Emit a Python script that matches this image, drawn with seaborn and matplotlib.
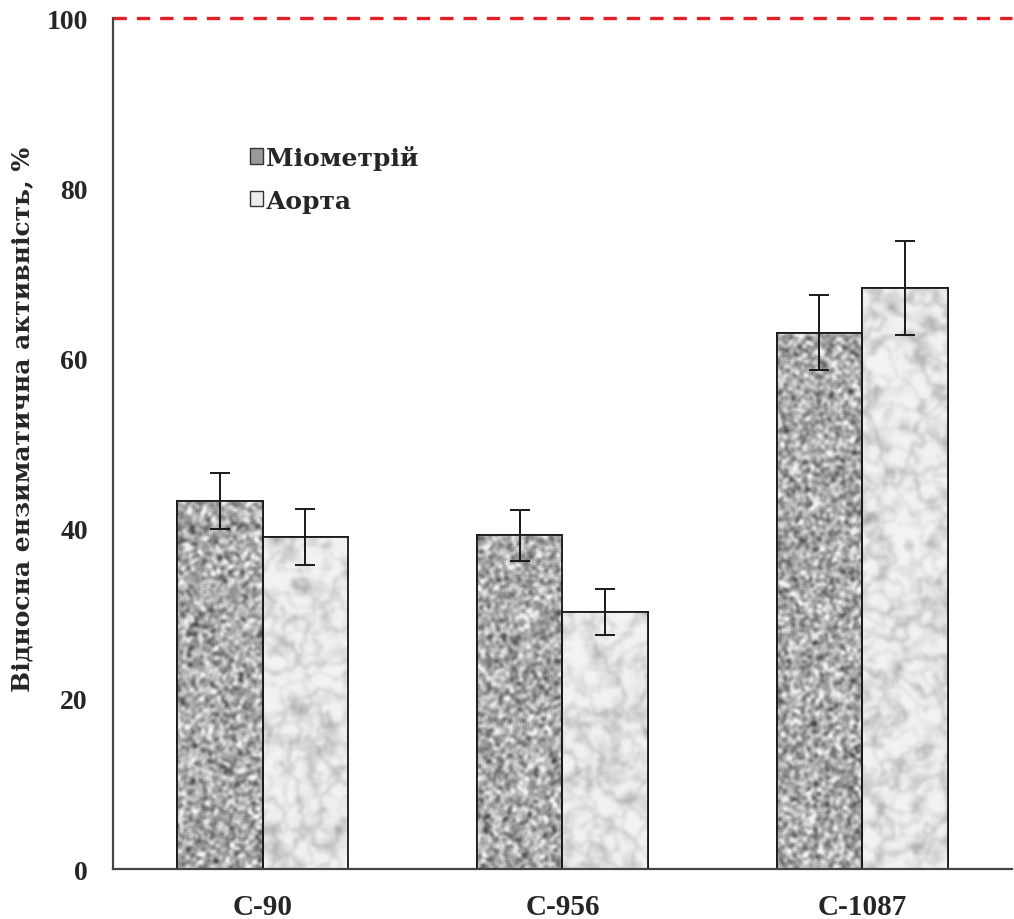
import numpy as np
import pandas as pd
import matplotlib
matplotlib.use("Agg")
import matplotlib.pyplot as plt
import matplotlib.patches as mpatches
import seaborn as sns

# ─── Data ─────────────────────────────────────────────────────────────────────
compounds = ["C-90", "C-956", "C-1087"]
tissues = ["Міометрій", "Аорта"]
myometrium = [43.2, 39.2, 63.0]
myometrium_err = [3.3, 3.0, 4.4]
aorta = [39.0, 30.2, 68.3]
aorta_err = [3.3, 2.7, 5.5]
y_ticks = [0, 20, 40, 60, 80, 100]
control_level = 100

df = pd.DataFrame({
    "compound": compounds * 2,
    "tissue": [tissues[0]] * 3 + [tissues[1]] * 3,
    "value": myometrium + aorta,
    "err": myometrium_err + aorta_err,
})

FONT = ["Liberation Serif", "DejaVu Serif"]
WIDE_FONT = ["DejaVu Serif"]
rng = np.random.default_rng(7)


def _blur(a, k):
    # simple separable box blur
    ker = np.ones(k) / k
    a = np.apply_along_axis(lambda r: np.convolve(r, ker, mode="same"), 0, a)
    a = np.apply_along_axis(lambda r: np.convolve(r, ker, mode="same"), 1, a)
    return a


def _field(H, W, k, pad):
    f = _blur(_blur(rng.random((H + 2 * pad, W + 2 * pad)), k), k)
    f = f[pad:-pad, pad:-pad]
    return (f - f.mean()) / f.std()


def granite_texture(h, w):
    n = _field(h, w, 4, 12)
    return np.clip(0.67 + 0.11 * n, 0.3, 0.94)


def marble_texture(h, w):
    p = 10
    H, W = h + 2 * p, w + 2 * p
    big = _field(H, W, 21, 50)
    big2 = _field(H, W, 15, 40)
    cloud = _field(H, W, 11, 30)
    mid = _field(H, W, 5, 15)
    # soft grey veins along the zero lines of smooth fields, plus clouds
    vein = np.maximum(np.exp(-np.abs(big + 0.2 * mid) / 0.25),
                      0.7 * np.exp(-np.abs(big2 + 0.2 * mid) / 0.2))
    vein = _blur(vein, 5)
    val = 0.95 - 0.2 * vein - 0.05 * np.clip(cloud, 0, None)
    return np.clip(val[p:-p, p:-p], 0.6, 0.98)


sns.set_style("white")
plt.rcParams["font.family"] = FONT
plt.rcParams["font.weight"] = "bold"

fig = plt.figure(figsize=(10.14, 9.2), dpi=100)
ax = fig.add_axes([0.1114, 0.0543, 0.8866, 0.925])

sns.barplot(data=df, x="compound", y="value", hue="tissue",
            order=compounds, hue_order=tissues,
            palette=["#9a9a9a", "#ececec"], width=0.57, gap=0,
            errorbar=None, legend=False, edgecolor="#1a1a1a",
            linewidth=1.3, ax=ax)

# textures + error bars taken from the drawn bars
bars = [p for p in ax.patches if isinstance(p, mpatches.Rectangle)]
for i, bar in enumerate(bars):
    x0, w, h = bar.get_x(), bar.get_width(), bar.get_height()
    px_h = max(int(h * 8.5), 4)
    tex = granite_texture(px_h, 86) if i < 3 else marble_texture(px_h, 86)
    im = ax.imshow(tex, cmap="gray", vmin=0, vmax=1, aspect="auto",
                   extent=(x0, x0 + w, 0, h), zorder=bar.get_zorder() + 0.1,
                   interpolation="bilinear")
    im.set_clip_path(bar)
    edge = mpatches.Rectangle((x0, 0), w, h, fill=False,
                              edgecolor="#1a1a1a", linewidth=1.3,
                              zorder=bar.get_zorder() + 0.2)
    ax.add_patch(edge)

centers = [b.get_x() + b.get_width() / 2 for b in bars]
heights = [b.get_height() for b in bars]
ax.errorbar(centers, heights, yerr=myometrium_err + aorta_err, fmt="none",
            ecolor="#1a1a1a", elinewidth=1.4, capsize=7, capthick=1.4,
            zorder=5)

ax.axhline(control_level, color="#e41e26", linestyle=(0, (4, 3)),
           linewidth=2.4, clip_on=False, zorder=6)

ax.set_xlim(-0.5, 2.5)
ax.set_ylim(0, 100)
ax.set_yticks(y_ticks)
ax.set_xticks([-0.5, 0.5, 1.5, 2.5], minor=False)
ax.set_xticklabels([])
ax.set_xticks([0, 1, 2], minor=True)
ax.set_xticklabels(compounds, minor=True)
ax.tick_params(axis="x", which="minor", length=0, pad=17, labelsize=21)
ax.tick_params(axis="x", which="major", direction="out", length=8,
               width=1.3, color="#444")
ax.tick_params(axis="y", direction="out", length=8, width=1.3,
               color="#444", labelsize=20, pad=10)
for lab in ax.get_xticklabels(minor=True) + ax.get_yticklabels():
    lab.set_fontweight("bold")

for side in ["top", "right"]:
    ax.spines[side].set_visible(False)
for side in ["left", "bottom"]:
    ax.spines[side].set_color("#444")
    ax.spines[side].set_linewidth(1.6)

ax.set_xlabel("")
ax.set_ylabel("Відносна ензиматична активність, %", fontsize=18,
              fontweight="bold", family=WIDE_FONT)
ax.yaxis.set_label_coords(-0.088, 0.53)

handles = [mpatches.Patch(facecolor="#9a9a9a", edgecolor="#333", label=tissues[0]),
           mpatches.Patch(facecolor="#ececec", edgecolor="#333", label=tissues[1])]
leg = ax.legend(handles=handles, loc="upper left", bbox_to_anchor=(0.152, 0.851),
                frameon=False, handlelength=0.55, handleheight=0.55,
                handletextpad=0.1, labelspacing=0.75, borderpad=0,
                borderaxespad=0,
                prop={"family": WIDE_FONT, "weight": "bold", "size": 18})

fig.savefig("out.png", dpi=100)
